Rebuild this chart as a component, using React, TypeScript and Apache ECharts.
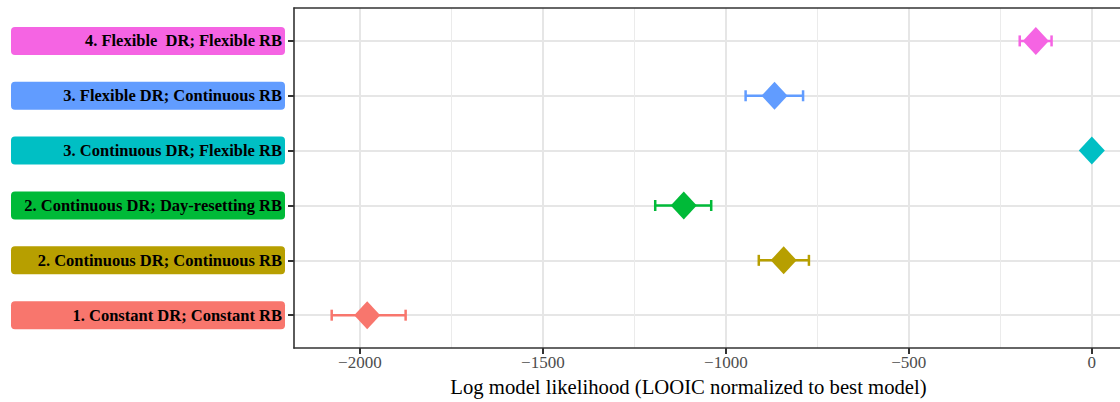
import React, { useEffect, useRef } from "react";
import * as echarts from "echarts";

const categories = [
  "1. Constant DR; Constant RB",
  "2. Continuous DR; Continuous RB",
  "2. Continuous DR; Day-resetting RB",
  "3. Continuous DR; Flexible RB",
  "3. Flexible DR; Continuous RB",
  "4. Flexible  DR; Flexible RB",
];
const estimates = [-1980, -842, -1115, 0, -867, -153];
const lower = [-2077, -910, -1193, 0, -946, -197];
const upper = [-1875, -773, -1040, 0, -789, -110];
const colors = ["#F8766D", "#B79F00", "#00BA38", "#00BFC4", "#619CFF", "#F564E3"];
const xTicks = [-2000, -1500, -1000, -500, 0];
const xMinorTicks = [-1750, -1250, -750, -250];
const yTicks = [1, 2, 3, 4, 5, 6];
const xTitle = "Log model likelihood (LOOIC normalized to best model)";

const SERIF = "'Liberation Serif', 'DejaVu Serif', serif";

export default function App() {
  const ref = useRef<HTMLDivElement>(null);
  useEffect(() => {
    if (!ref.current) return;
    const chart = echarts.init(ref.current, undefined, { renderer: "svg" });
    const rich: Record<string, any> = {};
    colors.forEach((c, i) => {
      rich["r" + i] = {
        backgroundColor: c,
        borderRadius: 4,
        width: 271,
        height: 28,
        lineHeight: 28,
        padding: [0, 3, 0, 0],
        align: "right",
        fontFamily: SERIF,
        fontWeight: "bold",
        fontSize: 16.5,
        color: "#000",
      };
    });
    const xMin = -2180;
    const xMax = 77;
    chart.setOption({
      animation: false,
      backgroundColor: "#ffffff",
      grid: { left: 294, right: 0, top: 8, bottom: 52, containLabel: false },
      xAxis: [
        {
          type: "value",
          position: "bottom",
          min: xMin,
          max: xMax,
          axisLine: { show: true, onZero: false, lineStyle: { color: "#333333", width: 1.6 } },
          axisTick: { show: true, length: 6, customValues: xTicks, lineStyle: { color: "#333333", width: 2 } },
          axisLabel: {
            show: true,
            customValues: xTicks,
            margin: 6,
            fontFamily: SERIF,
            fontSize: 17,
            color: "#4d4d4d",
            formatter: (v: number) => (v < 0 ? "\u2212" + Math.abs(v) : String(v)),
          },
          splitLine: { show: true, lineStyle: { color: "#e6e6e6", width: 2 } },
          name: xTitle,
          nameLocation: "middle",
          nameGap: 17,
          nameTextStyle: { fontFamily: SERIF, fontSize: 20.7, color: "#000", padding: [0, 37, 0, 0] },
        },
        {
          type: "value",
          position: "top",
          min: xMin,
          max: xMax,
          axisLine: { show: true, onZero: false, lineStyle: { color: "#333333", width: 1.6 } },
          axisTick: { show: false, customValues: xMinorTicks },
          axisLabel: { show: false, customValues: xMinorTicks },
          splitLine: { show: true, lineStyle: { color: "#ebebeb", width: 1 } },
        },
      ],
      yAxis: {
        type: "value",
        min: 0.4,
        max: 6.6,
        axisLine: { show: true, onZero: false, lineStyle: { color: "#333333", width: 1.6 } },
        axisTick: { show: true, length: 6, customValues: yTicks, lineStyle: { color: "#333333", width: 2 } },
        axisLabel: {
          show: true,
          customValues: yTicks,
          margin: 9,
          rich,
          formatter: (v: number) => {
            const i = Math.round(v) - 1;
            return `{r${i}|${categories[i]}}`;
          },
        },
        splitLine: { show: true, lineStyle: { color: "#e6e6e6", width: 2 } },
      },
      series: [
        {
          type: "custom",
          xAxisIndex: 0,
          data: lower.map((lo, i) => [lo, upper[i], i + 1]),
          encode: { x: [0, 1], y: 2 },
          renderItem: (params: any, api: any) => {
            const a = api.coord([api.value(0), api.value(2)]);
            const b = api.coord([api.value(1), api.value(2)]);
            const color = colors[params.dataIndex];
            const h = 5.5;
            const st = { stroke: color, lineWidth: 2.5 };
            return {
              type: "group",
              children: [
                { type: "line", shape: { x1: a[0], y1: a[1], x2: b[0], y2: b[1] }, style: st },
                { type: "line", shape: { x1: a[0], y1: a[1] - h, x2: a[0], y2: a[1] + h }, style: st },
                { type: "line", shape: { x1: b[0], y1: b[1] - h, x2: b[0], y2: b[1] + h }, style: st },
              ],
            };
          },
          z: 2,
        },
        {
          type: "scatter",
          xAxisIndex: 0,
          symbol: "diamond",
          symbolSize: [26, 28],
          data: estimates.map((v, i) => ({ value: [v, i + 1], itemStyle: { color: colors[i], opacity: 1 } })),
          z: 3,
        },
      ],
    });
    return () => chart.dispose();
  }, []);
  return (
    <div
      ref={ref}
      style={{ position: "fixed", left: 0, top: 0, width: 1120, height: 402, background: "#fff" }}
    />
  );
}
